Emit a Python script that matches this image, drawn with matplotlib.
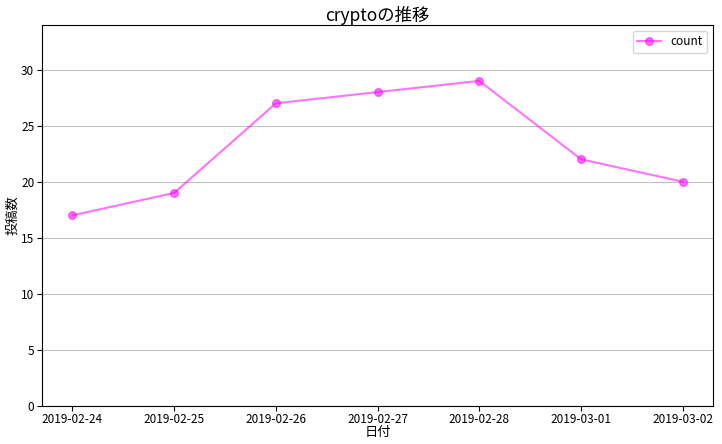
import matplotlib.pyplot as plt

plt.rcParams['font.family'] = ['Noto Sans CJK JP', 'DejaVu Sans']

dates = ['2019-02-24', '2019-02-25', '2019-02-26', '2019-02-27',
         '2019-02-28', '2019-03-01', '2019-03-02']
counts = [17, 19, 27, 28, 29, 22, 20]

fig, ax = plt.subplots(figsize=(7.22, 4.44), dpi=100)
fig.subplots_adjust(left=0.058, right=0.988, top=0.944, bottom=0.086)

ax.plot(dates, counts, marker='o', markersize=5.5, color='magenta', alpha=0.55, label='count')
ax.set_ylim(0, 34)
ax.yaxis.grid(True, color='#c0c0c0')
ax.set_axisbelow(True)

ax.set_title('cryptoの推移', fontsize=12.5, pad=3)
ax.set_xlabel('日付', fontsize=9.5, labelpad=0)
ax.set_ylabel('投稿数', fontsize=9.5, labelpad=1)
ax.tick_params(labelsize=8.5, pad=2)
ax.legend(loc='upper right', fontsize=8.5)

fig.savefig('out.png')
